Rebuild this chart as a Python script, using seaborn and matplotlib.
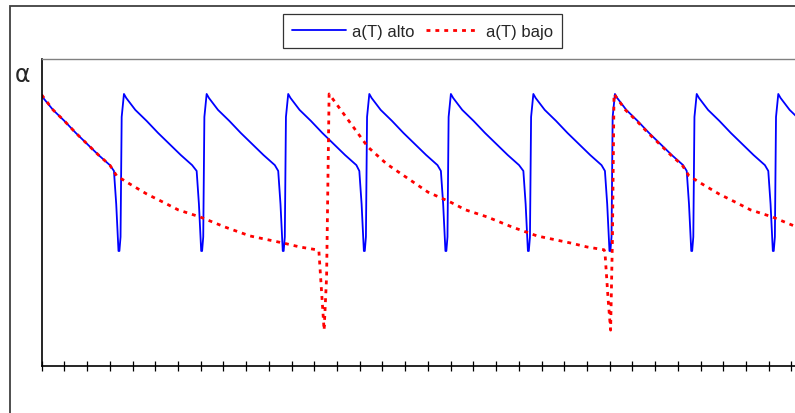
import numpy as np
import pandas as pd
import matplotlib
matplotlib.use("Agg")
import matplotlib.pyplot as plt
import matplotlib.patches as patches
import seaborn as sns

sns.set_style("white")
plt.rcParams['font.family'] = ['Liberation Sans', 'DejaVu Sans']

# a(T) alto: sawtooth (x in tick units, alpha in 0-100 of plot height)
alto_t = [0.00, 0.10, 0.50, 1.00, 1.50, 2.00, 2.50, 3.00, 3.18, 3.28, 3.38, 3.42, 3.47, 3.52,
          3.62, 3.72, 4.12, 4.62, 5.12, 5.62, 6.12, 6.62, 6.82, 6.92, 7.02, 7.06, 7.11, 7.16,
          7.26, 7.36, 7.76, 8.26, 8.76, 9.26, 9.76, 10.26, 10.41, 10.51, 10.61, 10.65, 10.70, 10.75,
          10.85, 10.95, 11.35, 11.85, 12.35, 12.85, 13.35, 13.85, 13.98, 14.08, 14.18, 14.22, 14.27, 14.32,
          14.42, 14.52, 14.92, 15.42, 15.92, 16.42, 16.92, 17.42, 17.57, 17.67, 17.77, 17.81, 17.86, 17.91,
          18.01, 18.11, 18.51, 19.01, 19.51, 20.01, 20.51, 21.01, 21.20, 21.30, 21.40, 21.44, 21.49, 21.54,
          21.64, 21.74, 22.14, 22.64, 23.14, 23.64, 24.14, 24.64, 24.79, 24.89, 24.99, 25.03, 25.08, 25.13,
          25.23, 25.33, 25.73, 26.23, 26.73, 27.23, 27.73, 28.23, 28.39, 28.49, 28.59, 28.63, 28.68, 28.73,
          28.83, 28.93, 29.33, 29.83, 30.33, 30.83, 31.33, 31.83, 31.98, 32.08, 32.18, 32.22, 32.27, 32.32,
          32.42, 32.52, 32.92, 33.42, 33.92]
alto_a = [88.3, 87.0, 83.4, 79.8, 75.9, 72.3, 68.7, 65.4, 63.5, 52.7, 37.4, 37.4, 42.0, 81.1,
          88.6, 87.3, 83.4, 79.8, 75.9, 72.3, 68.7, 65.4, 63.5, 52.7, 37.4, 37.4, 42.0, 81.1,
          88.6, 87.3, 83.4, 79.8, 75.9, 72.3, 68.7, 65.4, 63.5, 52.7, 37.4, 37.4, 42.0, 81.1,
          88.6, 87.3, 83.4, 79.8, 75.9, 72.3, 68.7, 65.4, 63.5, 52.7, 37.4, 37.4, 42.0, 81.1,
          88.6, 87.3, 83.4, 79.8, 75.9, 72.3, 68.7, 65.4, 63.5, 52.7, 37.4, 37.4, 42.0, 81.1,
          88.6, 87.3, 83.4, 79.8, 75.9, 72.3, 68.7, 65.4, 63.5, 52.7, 37.4, 37.4, 42.0, 81.1,
          88.6, 87.3, 83.4, 79.8, 75.9, 72.3, 68.7, 65.4, 63.5, 52.7, 37.4, 37.4, 42.0, 81.1,
          88.6, 87.3, 83.4, 79.8, 75.9, 72.3, 68.7, 65.4, 63.5, 52.7, 37.4, 37.4, 42.0, 81.1,
          88.6, 87.3, 83.4, 79.8, 75.9, 72.3, 68.7, 65.4, 63.5, 52.7, 37.4, 37.4, 42.0, 81.1,
          88.6, 87.3, 83.4, 79.8, 75.9]

# a(T) bajo
bajo_t = [0.00, 0.50, 1.00, 1.50, 2.00, 2.50, 3.00, 3.30, 3.89, 4.62, 5.35, 6.01, 6.97, 8.07,
          9.17, 10.63, 11.37, 12.10, 12.20, 12.34, 12.43, 12.54, 12.65,
          14.36, 15.18, 17.00, 18.00, 18.66, 19.61, 20.71, 21.81, 23.28, 24.01, 24.75,
          24.79, 24.93, 25.04, 25.12, 25.19,
          25.69, 26.19, 26.69, 27.19, 27.69, 28.19, 28.49, 29.08, 29.81, 30.54, 31.20, 32.16,
          33.24, 34.20]
bajo_a = [88.3, 83.4, 79.8, 75.9, 72.3, 68.7, 65.4, 61.9, 59.2, 56.0, 53.3, 50.8, 48.5, 45.2,
          42.3, 40.0, 38.7, 37.8, 37.4, 21.7, 11.6, 29.2, 88.6,
          71.3, 65.8, 56.6, 53.3, 50.8, 48.5, 45.2, 42.3, 40.0, 38.7, 37.8,
          37.1, 21.7, 11.6, 41.3, 88.6,
          83.4, 79.8, 75.9, 72.3, 68.7, 65.4, 61.9, 59.2, 56.0, 53.3, 50.8, 48.5,
          45.2, 43.0]

W, H = 795, 414
fig = plt.figure(figsize=(W / 100, H / 100), dpi=100)

# outer chart border (cut off on right and bottom like the original)
fig.patches.append(patches.Rectangle((9.7 / W, -0.2), 1.3, 1.2 - 6.5 / H,
                                     transform=fig.transFigure, fill=False,
                                     edgecolor='#404040', linewidth=1.3))

ax_left, ax_right, ax_bot, ax_top = 41.7, 812, 366.7, 60
ax = fig.add_axes([ax_left / W, (H - ax_bot) / H, (ax_right - ax_left) / W, (ax_bot - ax_top) / H])

sns.lineplot(x=alto_t, y=alto_a, ax=ax, color='#0000ff', linewidth=1.3,
             label='a(T) alto', estimator=None, sort=False)
sns.lineplot(x=bajo_t, y=bajo_a, ax=ax, color='#ff0000', linewidth=2.0,
             linestyle=(0, (1.4, 1.8)), dash_capstyle='butt',
             label='a(T) bajo', estimator=None, sort=False)

ax.set_xlim(0, (ax_right - ax_left) / 22.72)
ax.set_ylim(0, 100)
ax.set_xticks(np.arange(0, 34))
ax.set_xticklabels([])
ax.set_yticks([])
ax.set_xlabel('')
ax.set_ylabel('')
ax.tick_params(axis='x', direction='inout', length=7, width=0.9, color='black', bottom=True)

for side in ['left', 'bottom']:
    ax.spines[side].set_color('black')
    ax.spines[side].set_linewidth(1.2)
ax.spines['top'].set_color('#808080')
ax.spines['top'].set_linewidth(1.0)
ax.spines['right'].set_visible(False)

ax.get_legend().remove()
h, l = ax.get_legend_handles_labels()
leg = fig.legend(h, l, loc='center', bbox_to_anchor=(422.5 / W, 1 - 32 / H), ncol=2,
                 fontsize=12, frameon=True, fancybox=False, shadow=False,
                 handlelength=3.2, handletextpad=0.4, columnspacing=0.65,
                 borderpad=0.55, borderaxespad=0)
leg.get_frame().set_edgecolor('black')
leg.get_frame().set_linewidth(0.9)

fig.text(22 / W, 1 - 75 / H, 'α', fontsize=17, ha='center', va='center',
         family=['DejaVu Sans'])

fig.savefig('out.png', dpi=100)
